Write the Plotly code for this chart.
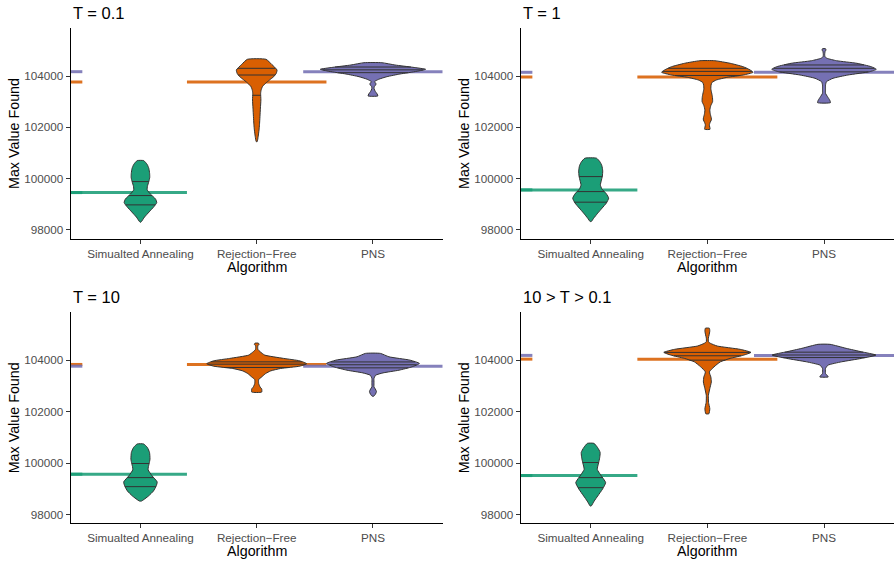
import numpy as np
import plotly.graph_objects as go

# ---------------- data ----------------
ALGORITHMS = ["Simualted Annealing", "Rejection\u2212Free", "PNS"]
COLORS = ["#1B9E77", "#D95F02", "#7570B3"]
PANEL_TITLES = ["T = 0.1", "T = 1", "T = 10", "10 > T > 0.1"]
Y_TICKS = [98000, 100000, 102000, 104000]

# violin density profiles: value (Y) and half width in category units (W); quantiles (Q: 25/50/75 %)
# ---- T = 0.1
T01_SA_Y = [100700, 100550, 100400, 100200, 100050, 99880, 99700, 99560, 99400, 99200, 99060, 98900, 98700, 98500, 98300]
T01_SA_W = [0.028, 0.058, 0.072, 0.079, 0.080, 0.072, 0.060, 0.058, 0.085, 0.130, 0.140, 0.115, 0.075, 0.035, 0.004]
T01_SA_Q = [98974, 99337, 99882]
T01_RF_Y = [104651, 104450, 104234, 104100, 103973, 103850, 103778, 103680, 103583, 103450, 103326, 103065, 102750, 102414, 102100, 101896, 101650, 101440]
T01_RF_W = [0.080, 0.130, 0.175, 0.168, 0.146, 0.112, 0.092, 0.068, 0.049, 0.038, 0.034, 0.036, 0.032, 0.028, 0.024, 0.020, 0.013, 0.004]
T01_RF_Q = [103248, 104039, 104300]
T01_PNS_Y = [104518, 104429, 104339, 104261, 104183, 104078, 103973, 103871, 103778, 103720, 103660, 103600, 103500, 103400, 103300, 103221]
T01_PNS_W = [0.077, 0.189, 0.344, 0.453, 0.378, 0.232, 0.120, 0.049, 0.013, 0.024, 0.026, 0.012, 0.010, 0.020, 0.036, 0.042]
T01_PNS_Q = [104130, 104240, 104350]
T01_MEANS = [99453, 103766, 104168]

# ---- T = 1
T1_SA_Y = [100794, 100650, 100500, 100300, 100100, 99900, 99753, 99600, 99400, 99235, 99050, 98850, 98650, 98450, 98324]
T1_SA_W = [0.050, 0.080, 0.096, 0.103, 0.100, 0.090, 0.083, 0.095, 0.135, 0.154, 0.135, 0.098, 0.060, 0.025, 0.005]
T1_SA_Q = [99079, 99492, 100077]
T1_RF_Y = [104596, 104495, 104362, 104234, 104144, 104039, 103949, 103844, 103750, 103649, 103500, 103377, 103200, 102999, 102850, 102675, 102500, 102360, 102286, 102200, 102091, 101923]
T1_RF_W = [0.064, 0.196, 0.307, 0.367, 0.392, 0.307, 0.171, 0.077, 0.040, 0.032, 0.030, 0.035, 0.043, 0.045, 0.030, 0.021, 0.026, 0.034, 0.034, 0.025, 0.017, 0.023]
T1_RF_Q = [104020, 104180, 104300]
T1_PNS_Y = [105064, 105013, 104962, 104850, 104752, 104690, 104596, 104495, 104362, 104261, 104168, 104039, 103910, 103778, 103650, 103583, 103450, 103326, 103194, 103050, 102960]
T1_PNS_W = [0.013, 0.017, 0.010, 0.006, 0.008, 0.026, 0.107, 0.282, 0.405, 0.448, 0.392, 0.205, 0.077, 0.021, 0.013, 0.013, 0.013, 0.013, 0.030, 0.050, 0.055]
T1_PNS_Q = [104160, 104300, 104430]
T1_MEANS = [99559, 103961, 104144]

# ---- T = 10
T10_SA_Y = [100740, 100600, 100411, 100152, 99980, 99851, 99734, 99500, 99264, 99100, 98912, 98716, 98520]
T10_SA_W = [0.028, 0.060, 0.078, 0.082, 0.075, 0.068, 0.066, 0.100, 0.144, 0.135, 0.112, 0.069, 0.009]
T10_SA_Q = [99080, 99432, 99980]
T10_RF_Y = [104660, 104610, 104560, 104420, 104325, 104196, 104067, 103973, 103860, 103765, 103675, 103581, 103479, 103346, 103245, 103088, 102950, 102880, 102759]
T10_RF_W = [0.015, 0.020, 0.010, 0.010, 0.030, 0.069, 0.232, 0.370, 0.430, 0.370, 0.206, 0.120, 0.077, 0.043, 0.017, 0.017, 0.030, 0.043, 0.043]
T10_RF_Q = [103714, 103843, 103933]
T10_PNS_Y = [104262, 104129, 104000, 103871, 103738, 103609, 103503, 103413, 103284, 103100, 102955, 102880, 102780, 102680, 102600]
T10_PNS_W = [0.064, 0.138, 0.318, 0.400, 0.335, 0.224, 0.086, 0.023, 0.009, 0.009, 0.009, 0.020, 0.030, 0.022, 0.008]
T10_PNS_Q = [103700, 103820, 103930]
T10_MEANS = [99565, 103832, 103765]

# ---- 10 > T > 0.1
TR_SA_Y = [100763, 100595, 100411, 100203, 100008, 99753, 99538, 99237, 98990, 98716, 98520, 98325]
TR_SA_W = [0.028, 0.060, 0.081, 0.077, 0.068, 0.056, 0.085, 0.128, 0.102, 0.060, 0.030, 0.004]
TR_SA_Q = [99041, 99432, 100019]
TR_RF_Y = [105241, 105135, 104979, 104861, 104716, 104654, 104548, 104419, 104301, 104196, 104067, 103933, 103738, 103542, 103346, 103151, 102892, 102630, 102356, 102110, 101914]
TR_RF_W = [0.017, 0.021, 0.015, 0.009, 0.009, 0.026, 0.085, 0.282, 0.373, 0.313, 0.196, 0.111, 0.057, 0.017, 0.030, 0.034, 0.021, 0.009, 0.010, 0.021, 0.013]
TR_RF_Q = [104000, 104170, 104300]
TR_PNS_Y = [104615, 104458, 104325, 104196, 104067, 103933, 103804, 103675, 103479, 103413, 103346]
TR_PNS_W = [0.051, 0.190, 0.320, 0.445, 0.320, 0.149, 0.034, 0.013, 0.013, 0.026, 0.036]
TR_PNS_Q = [104100, 104200, 104310]
TR_MEANS = [99511, 104039, 104184]

PANELS = [
    ([(T01_SA_Y, T01_SA_W, T01_SA_Q), (T01_RF_Y, T01_RF_W, T01_RF_Q), (T01_PNS_Y, T01_PNS_W, T01_PNS_Q)], T01_MEANS),
    ([(T1_SA_Y, T1_SA_W, T1_SA_Q), (T1_RF_Y, T1_RF_W, T1_RF_Q), (T1_PNS_Y, T1_PNS_W, T1_PNS_Q)], T1_MEANS),
    ([(T10_SA_Y, T10_SA_W, T10_SA_Q), (T10_RF_Y, T10_RF_W, T10_RF_Q), (T10_PNS_Y, T10_PNS_W, T10_PNS_Q)], T10_MEANS),
    ([(TR_SA_Y, TR_SA_W, TR_SA_Q), (TR_RF_Y, TR_RF_W, TR_RF_Q), (TR_PNS_Y, TR_PNS_W, TR_PNS_Q)], TR_MEANS),
]

# ---------------- layout geometry ----------------
W_PX, H_PX = 894, 561
def px_x(p): return p / W_PX
def px_y(p): return 1 - p / H_PX

X_DOMAINS = [[px_x(70.7), px_x(442.7)], [px_x(520.7), 1.0]]
Y_DOMAINS = [[px_y(238.7), px_y(28.3)], [px_y(523.3), px_y(312.3)]]
X_RANGE = [0.4, 3.6]
Y_RANGE = [97655, 105860]
MEAN_SPANS = [(0.4, 1.4), (1.4, 2.6), (2.4, 3.6)]
STUB_SPAN = (0.4, 0.5)
FONT = "Liberation Sans, Arial, Helvetica, sans-serif"

fig = go.Figure()

for k, (violins, means) in enumerate(PANELS):
    xa = "x" if k == 0 else f"x{k+1}"
    ya = "y" if k == 0 else f"y{k+1}"
    # mean lines (drawn below the violins)
    for i, m in enumerate(means):
        for (a, b) in (MEAN_SPANS[i], STUB_SPAN):
            fig.add_shape(type="line", xref=xa, yref=ya, x0=a, x1=b, y0=m, y1=m,
                          line=dict(color=COLORS[i], width=3), opacity=0.88, layer="below")
    # violins
    for i, (ys, ws, qs) in enumerate(violins):
        c = i + 1
        ys = np.asarray(ys, float)
        ws = np.asarray(ws, float)
        vx = np.concatenate([c + ws, (c - ws)[::-1], [c + ws[0]]])
        vy = np.concatenate([ys, ys[::-1], [ys[0]]])
        fig.add_trace(go.Scatter(x=vx, y=vy, mode="lines", fill="toself",
                                 fillcolor=COLORS[i], xaxis=xa, yaxis=ya,
                                 line=dict(color="#333333", width=1, shape="spline", smoothing=0.5),
                                 hoverinfo="skip", showlegend=False))
        # quantile lines
        order = np.argsort(ys)
        qx, qy = [], []
        for q in qs:
            hw = float(np.interp(q, ys[order], ws[order]))
            qx += [c - hw, c + hw, None]
            qy += [q, q, None]
        fig.add_trace(go.Scatter(x=qx, y=qy, mode="lines", xaxis=xa, yaxis=ya,
                                 line=dict(color="#333333", width=1),
                                 hoverinfo="skip", showlegend=False))

axis_common = dict(showline=True, linecolor="black", linewidth=1.1, ticks="outside",
                   ticklen=4, tickwidth=1, tickcolor="#333333", showgrid=False,
                   zeroline=False, tickfont=dict(family=FONT, size=11.7, color="#4D4D4D"))

layout = dict(width=W_PX, height=H_PX, margin=dict(l=0, r=0, t=0, b=0),
              plot_bgcolor="white", paper_bgcolor="white", showlegend=False,
              font=dict(family=FONT))
annotations = []
for k in range(4):
    col, row = k % 2, k // 2
    xkey = "xaxis" if k == 0 else f"xaxis{k+1}"
    ykey = "yaxis" if k == 0 else f"yaxis{k+1}"
    ya_name = "y" if k == 0 else f"y{k+1}"
    xa_name = "x" if k == 0 else f"x{k+1}"
    layout[xkey] = dict(axis_common, domain=X_DOMAINS[col], anchor=ya_name, range=X_RANGE,
                        tickmode="array", tickvals=[1, 2, 3], ticktext=ALGORITHMS)
    layout[ykey] = dict(axis_common, domain=Y_DOMAINS[row], anchor=xa_name, range=Y_RANGE,
                        tickmode="array", tickvals=Y_TICKS, tickformat="d")
    x0 = X_DOMAINS[col][0]
    x1 = X_DOMAINS[col][1]
    top_px = 28.3 if row == 0 else 312.3
    bot_px = 238.7 if row == 0 else 523.3
    # panel title
    annotations.append(dict(text=PANEL_TITLES[k], x=x0 + px_x(0.5), y=px_y(top_px - 15.8),
                            xref="paper", yref="paper", xanchor="left", yanchor="middle",
                            showarrow=False, font=dict(family=FONT, size=16.5, color="black")))
    # x axis title
    annotations.append(dict(text="Algorithm", x=(x0 + x1) / 2, y=px_y(bot_px + 28),
                            xref="paper", yref="paper", xanchor="center", yanchor="middle",
                            showarrow=False, font=dict(family=FONT, size=14.3, color="black")))
    # y axis title
    annotations.append(dict(text="Max Value Found", x=x0 - px_x(57.2), y=px_y((top_px + bot_px) / 2),
                            xref="paper", yref="paper", xanchor="center", yanchor="middle",
                            textangle=-90, showarrow=False,
                            font=dict(family=FONT, size=14.3, color="black")))
layout["annotations"] = annotations
fig.update_layout(**layout)

fig.write_html("out.html", config={"displayModeBar": False},
               post_script="document.body.style.margin='0px';document.body.style.overflow='hidden';")
